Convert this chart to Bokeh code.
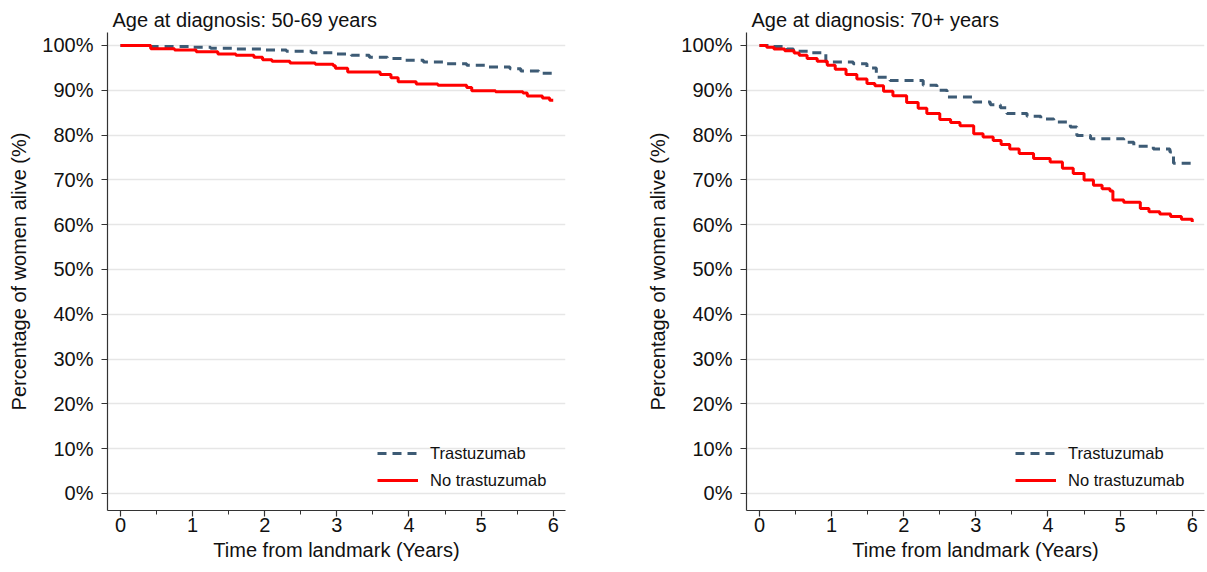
from bokeh.plotting import figure
from bokeh.layouts import row
from bokeh.models import SingleIntervalTicker, FixedTicker, PrintfTickFormatter, Legend, LegendItem, Range1d
from bokeh.embed import file_html
from bokeh.resources import INLINE

# ---- data ----
titles = ["Age at diagnosis: 50-69 years", "Age at diagnosis: 70+ years"]
series_names = ["Trastuzumab", "No trastuzumab"]
y_ticks = [0, 10, 20, 30, 40, 50, 60, 70, 80, 90, 100]

t_tras_5069 = [0, 0.4, 0.95, 1.25, 1.6, 1.95, 2.3, 2.65, 2.95, 3.2, 3.45, 3.7, 3.95, 4.2, 4.5, 4.8, 5.1, 5.4, 5.55, 5.8, 6.0]
s_tras_5069 = [100, 99.8, 99.6, 99.4, 99.2, 99.0, 98.7, 98.4, 98.1, 97.8, 97.4, 97.1, 96.7, 96.3, 95.9, 95.6, 95.2, 94.8, 94.3, 93.8, 93.6]

t_no_5069 = [0, 0.42, 0.75, 1.05, 1.35, 1.6, 1.85, 1.97, 2.1, 2.35, 2.7, 2.95, 2.98, 3.15, 3.6, 3.75, 3.85, 4.1, 4.4, 4.8, 4.87, 5.2, 5.58, 5.64, 5.85, 5.95, 6.0]
s_no_5069 = [100, 99.3, 99.0, 98.6, 98.1, 97.8, 97.4, 96.8, 96.5, 96.1, 95.8, 95.5, 94.9, 94.1, 93.5, 92.8, 91.9, 91.4, 91.1, 90.6, 89.9, 89.7, 89.4, 88.7, 88.3, 87.8, 87.8]

t_tras_70 = [0, 0.19, 0.38, 0.47, 0.7, 0.92, 1.3, 1.49, 1.62, 1.81, 2.27, 2.46, 2.6, 2.97, 3.2, 3.34, 3.43, 3.71, 3.9, 4.08, 4.31, 4.4, 4.59, 5.05, 5.19, 5.46, 5.69, 5.74, 6.0]
s_tras_70 = [100, 99.8, 99.2, 98.7, 98.4, 96.3, 95.9, 95.0, 92.9, 92.2, 91.1, 90.0, 88.5, 87.4, 86.8, 86.1, 84.8, 84.2, 83.6, 82.9, 81.8, 79.9, 79.2, 78.4, 77.5, 76.9, 76.2, 73.7, 73.6]

t_no_70 = [0, 0.1, 0.2, 0.35, 0.48, 0.55, 0.66, 0.8, 0.94, 1.05, 1.2, 1.35, 1.49, 1.6, 1.72, 1.85, 2.04, 2.2, 2.32, 2.5, 2.65, 2.78, 2.97, 3.1, 3.24, 3.35, 3.47, 3.6, 3.8, 4.03, 4.2, 4.35, 4.5, 4.63, 4.75, 4.86, 4.9, 5.05, 5.28, 5.4, 5.55, 5.7, 5.85, 6.0]
s_no_70 = [100, 99.6, 99.2, 98.8, 98.3, 97.8, 97.1, 96.5, 95.6, 94.7, 93.5, 92.5, 91.5, 91.0, 89.8, 88.8, 87.3, 86.0, 84.8, 83.5, 82.8, 82.1, 80.3, 79.6, 78.8, 77.9, 76.9, 75.9, 74.8, 74.0, 72.6, 71.4, 70.0, 68.8, 68.0, 67.5, 65.5, 65.0, 63.6, 62.9, 62.4, 61.8, 61.2, 60.6]

FONT = "Liberation Sans"
TRAS_COLOR = "#3d5b75"
NO_COLOR = "#ff0000"
AX_COLOR = "#333333"


def make_panel(title, t1, s1, t2, s2, x_end, width, border_left, border_right, legend_x):
    p = figure(width=width, height=570,
               x_range=Range1d(-0.18, x_end), y_range=Range1d(-3.8, 102.9),
               output_backend="svg", toolbar_location=None,
               min_border_left=border_left, min_border_right=border_right,
               min_border_top=32, min_border_bottom=60,
               title=title, outline_line_color=None)
    p.title.text_font = FONT
    p.title.text_font_size = "20px"
    p.title.text_font_style = "normal"
    p.title.text_color = "#111111"
    p.title.align = "left"
    p.title.offset = 5
    p.title.standoff = 3

    p.xaxis.ticker = SingleIntervalTicker(interval=1, num_minor_ticks=2)
    p.yaxis.ticker = FixedTicker(ticks=y_ticks)
    p.yaxis.formatter = PrintfTickFormatter(format="%d%%")
    for ax in (p.xaxis, p.yaxis):
        ax.axis_line_color = AX_COLOR
        ax.axis_line_width = 1.2
        ax.major_tick_line_color = AX_COLOR
        ax.major_tick_line_width = 1.2
        ax.major_tick_out = 6
        ax.major_tick_in = 0
        ax.major_label_text_font = FONT
        ax.major_label_text_font_size = "20px"
        ax.major_label_text_color = "#111111"
        ax.axis_label_text_font = FONT
        ax.axis_label_text_font_size = "20px"
        ax.axis_label_text_font_style = "normal"
        ax.axis_label_text_color = "#111111"
    p.xaxis.minor_tick_line_color = AX_COLOR
    p.xaxis.minor_tick_out = 4
    p.xaxis.minor_tick_in = 0
    p.yaxis.minor_tick_line_color = None
    p.xaxis.major_label_standoff = 1
    p.xaxis.axis_label_standoff = 4
    p.yaxis.major_label_standoff = 8
    p.yaxis.axis_label_standoff = 9
    p.xaxis.axis_label = "Time from landmark (Years)"
    p.yaxis.axis_label = "Percentage of women alive (%)"

    p.xgrid.grid_line_color = None
    p.ygrid.grid_line_color = "#e6e6e6"
    p.ygrid.grid_line_width = 1.5

    r1 = p.step(t1, s1, mode="after", line_color=TRAS_COLOR, line_width=3, line_dash="9 6")
    r2 = p.step(t2, s2, mode="after", line_color=NO_COLOR, line_width=3)

    leg = Legend(items=[LegendItem(label=series_names[0], renderers=[r1]),
                        LegendItem(label=series_names[1], renderers=[r2])],
                 location=(legend_x, 20), padding=0, margin=0, spacing=7,
                 border_line_color=None, background_fill_alpha=0,
                 glyph_width=41, glyph_height=20, label_height=20, label_standoff=12,
                 label_text_font=FONT, label_text_font_size="16.5px", label_text_color="#111111")
    p.add_layout(leg, "center")
    return p


p1 = make_panel(titles[0], t_tras_5069, s_tras_5069, t_no_5069, s_no_5069, 6.17, 600, 107, 35, 270)
p2 = make_panel(titles[1], t_tras_70, s_tras_70, t_no_70, s_no_70, 6.17, 607, 146, 3, 269)

layout = row(p1, p2)
open("out.html", "w").write(file_html(layout, INLINE))
